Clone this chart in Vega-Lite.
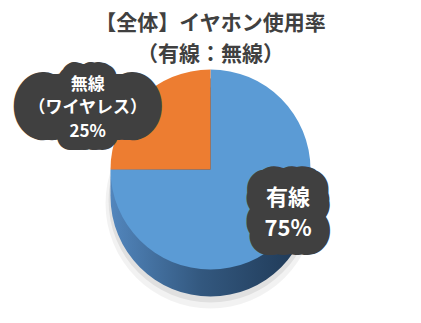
{
  "$schema": "https://vega.github.io/schema/vega-lite/v6.json",
  "width": 421,
  "height": 323,
  "autosize": {"type": "fit", "contains": "padding"},
  "padding": 0,
  "background": "white",
  "config": {"view": {"stroke": "#c8c8c8", "strokeWidth": 2}},
  "title": {
    "text": ["【全体】イヤホン使用率", "（有線：無線）"],
    "anchor": "middle",
    "offset": -65,
    "font": "Noto Sans CJK JP",
    "fontSize": 21,
    "fontWeight": "bold",
    "color": "#404040",
    "lineHeight": 31
  },
  "data": {
    "values": [
      {"label": "有線", "note": "", "share": 0.75},
      {"label": "無線", "note": "（ワイヤレス）", "share": 0.25}
    ]
  },
  "encoding": {
    "theta": {"field": "share", "type": "quantitative", "stack": true},
    "order": {"field": "label", "sort": "ascending"},
    "detail": {"field": "label", "type": "nominal"}
  },
  "layer": [
    {"mark": {"type": "arc", "outerRadius": 105, "yOffset": 42, "fill": "#000000", "opacity": 0.05}},
    {"mark": {"type": "arc", "outerRadius": 102, "yOffset": 39, "fill": "#000000", "opacity": 0.07}},
    {
      "mark": {
        "type": "arc", "outerRadius": 100, "yOffset": 35,
        "fill": {"gradient": "linear", "x1": 0, "y1": 0, "x2": 1, "y2": 0,
          "stops": [{"offset": 0, "color": "#5286bd"}, {"offset": 0.45, "color": "#33587f"}, {"offset": 1, "color": "#1d3652"}]}
      }
    },
    {
      "mark": {
        "type": "arc", "outerRadius": 100, "yOffset": 26,
        "fill": {"gradient": "linear", "x1": 0, "y1": 0, "x2": 1, "y2": 0,
          "stops": [{"offset": 0, "color": "#5286bd"}, {"offset": 0.45, "color": "#33587f"}, {"offset": 1, "color": "#1d3652"}]}
      }
    },
    {
      "mark": {
        "type": "arc", "outerRadius": 100, "yOffset": 17,
        "fill": {"gradient": "linear", "x1": 0, "y1": 0, "x2": 1, "y2": 0,
          "stops": [{"offset": 0, "color": "#5286bd"}, {"offset": 0.45, "color": "#33587f"}, {"offset": 1, "color": "#1d3652"}]}
      }
    },
    {
      "mark": {"type": "arc", "outerRadius": 100, "yOffset": 8},
      "encoding": {
        "color": {
          "field": "label", "type": "nominal",
          "scale": {"domain": ["有線", "無線"], "range": ["#5B9BD5", "#ED7D31"]},
          "legend": null
        }
      }
    },
    {
      "mark": {"type": "text", "radius": 80, "dx": 21, "dy": -20, "font": "Noto Sans CJK JP", "fontSize": 22, "fontWeight": "bold",
        "baseline": "middle", "fill": "#404040", "stroke": "#404040", "strokeWidth": 40, "strokeJoin": "round"},
      "encoding": {"text": {"condition": {"test": "datum.label === '有線'", "field": "label"}, "value": ""}}
    },
    {
      "mark": {"type": "text", "radius": 80, "dx": 21, "dy": 11, "font": "Noto Sans CJK JP", "fontSize": 22, "fontWeight": "bold",
        "baseline": "middle", "fill": "#404040", "stroke": "#404040", "strokeWidth": 38, "strokeJoin": "round"},
      "encoding": {"text": {"condition": {"test": "datum.label === '有線'", "field": "share", "format": ".0%"}, "value": ""}}
    },
    {
      "mark": {"type": "text", "radius": 80, "dx": 21, "dy": 11, "font": "Noto Sans CJK JP", "fontSize": 22, "fontWeight": "bold",
        "baseline": "middle", "fill": "#404040", "stroke": "#404040", "strokeWidth": 28, "strokeJoin": "round"},
      "encoding": {"text": {"condition": {"test": "datum.label === '有線'", "field": "share", "format": ".0%"}, "value": ""}}
    },
    {
      "mark": {"type": "text", "radius": 80, "dx": 21, "dy": -20, "font": "Noto Sans CJK JP", "fontSize": 22, "fontWeight": "bold",
        "baseline": "middle", "fill": "white"},
      "encoding": {"text": {"condition": {"test": "datum.label === '有線'", "field": "label"}, "value": ""}}
    },
    {
      "mark": {"type": "text", "radius": 80, "dx": 21, "dy": 11, "font": "Noto Sans CJK JP", "fontSize": 22, "fontWeight": "bold",
        "baseline": "middle", "fill": "white"},
      "encoding": {"text": {"condition": {"test": "datum.label === '有線'", "field": "share", "format": ".0%"}, "value": ""}}
    },
    {
      "mark": {"type": "text", "radius": 110, "dx": -45, "dy": 24, "font": "Noto Sans CJK JP", "fontSize": 17, "fontWeight": "bold",
        "baseline": "middle", "fill": "#404040", "stroke": "#404040", "strokeWidth": 52, "strokeJoin": "round"},
      "encoding": {"text": {"field": "note"}}
    },
    {
      "mark": {"type": "text", "radius": 110, "dx": -45, "dy": 1, "font": "Noto Sans CJK JP", "fontSize": 17, "fontWeight": "bold",
        "baseline": "middle", "fill": "#404040", "stroke": "#404040", "strokeWidth": 26, "strokeJoin": "round"},
      "encoding": {"text": {"condition": {"test": "datum.label === '無線'", "field": "label"}, "value": ""}}
    },
    {
      "mark": {"type": "text", "radius": 110, "dx": -45, "dy": 48, "font": "Noto Sans CJK JP", "fontSize": 17, "fontWeight": "bold",
        "baseline": "middle", "fill": "#404040", "stroke": "#404040", "strokeWidth": 26, "strokeJoin": "round"},
      "encoding": {"text": {"condition": {"test": "datum.label === '無線'", "field": "share", "format": ".0%"}, "value": ""}}
    },
    {
      "mark": {"type": "text", "radius": 110, "dx": -45, "dy": 48, "font": "Noto Sans CJK JP", "fontSize": 17, "fontWeight": "bold",
        "baseline": "middle", "fill": "#404040", "stroke": "#404040", "strokeWidth": 18, "strokeJoin": "round"},
      "encoding": {"text": {"condition": {"test": "datum.label === '無線'", "field": "share", "format": ".0%"}, "value": ""}}
    },
    {
      "mark": {"type": "text", "radius": 110, "dx": -45, "dy": 1, "font": "Noto Sans CJK JP", "fontSize": 17, "fontWeight": "bold",
        "baseline": "middle", "fill": "white"},
      "encoding": {"text": {"condition": {"test": "datum.label === '無線'", "field": "label"}, "value": ""}}
    },
    {
      "mark": {"type": "text", "radius": 110, "dx": -45, "dy": 24, "font": "Noto Sans CJK JP", "fontSize": 17, "fontWeight": "bold",
        "baseline": "middle", "fill": "white"},
      "encoding": {"text": {"field": "note"}}
    },
    {
      "mark": {"type": "text", "radius": 110, "dx": -45, "dy": 48, "font": "Noto Sans CJK JP", "fontSize": 17, "fontWeight": "bold",
        "baseline": "middle", "fill": "white"},
      "encoding": {"text": {"condition": {"test": "datum.label === '無線'", "field": "share", "format": ".0%"}, "value": ""}}
    }
  ]
}
